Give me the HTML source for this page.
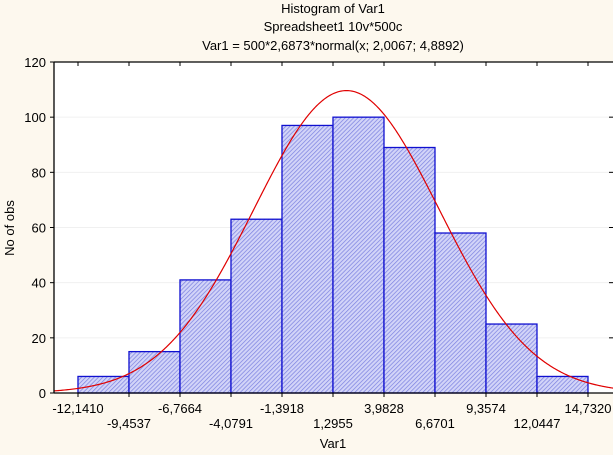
<!DOCTYPE html>
<html><head><meta charset="utf-8"><style>
html,body{margin:0;padding:0;background:#fdf8ee;}
svg{display:block;font-family:"Liberation Sans",Arial,sans-serif;}
</style></head><body>
<svg id="chart" width="613" height="455" viewBox="0 0 613 455">
<defs>
<pattern id="hatch" width="3" height="3" patternUnits="userSpaceOnUse" patternTransform="rotate(45)">
<rect width="3" height="3" fill="#d2d4f8"/>
<line x1="0" y1="0" x2="0" y2="3" stroke="#7a80e0" stroke-width="1.4"/>
</pattern>
</defs>
<rect x="0" y="0" width="613" height="455" fill="#fdf8ee"/>
<text x="333" y="13" font-size="13" text-anchor="middle">Histogram of Var1</text>
<text x="333" y="31" font-size="13" text-anchor="middle">Spreadsheet1 10v*500c</text>
<text x="333" y="50" font-size="13" text-anchor="middle">Var1 = 500*2,6873*normal(x; 2,0067; 4,8892)</text>
<rect x="54" y="62" width="559" height="331" fill="#ffffff"/>
<g id="grid"></g>
<g id="bars"></g>
<path id="curve" fill="none" stroke="#e00000" stroke-width="1.2"/>
<g id="axes"></g>
<text x="333" y="448" font-size="13" text-anchor="middle">Var1</text>
<text x="0" y="0" font-size="13" text-anchor="middle" transform="translate(14,228) rotate(-90)">No of obs</text>
</svg>
<script>
const binEdges = [-12.1410,-9.4537,-6.7664,-4.0791,-1.3918,1.2955,3.9828,6.6701,9.3574,12.0447,14.7320];
const edgeLabels = ["-12,1410","-9,4537","-6,7664","-4,0791","-1,3918","1,2955","3,9828","6,6701","9,3574","12,0447","14,7320"];
const counts = [6,15,41,63,97,100,89,58,25,6];
const yTicks = [0,20,40,60,80,100,120];
const fitN = 500, fitWidth = 2.6873, fitMean = 2.0067, fitSd = 4.8892;

const NS="http://www.w3.org/2000/svg";
const X0=54,X1=613,Y0=393,Y1=62;
const xMin=-13.405,xMax=16.05,yMax=120;
function sx(v){return X0+(v-xMin)/(xMax-xMin)*(X1-X0);}
function sy(v){return Y0-v/yMax*(Y0-Y1);}
function mk(t,a){const e=document.createElementNS(NS,t);for(const k in a)e.setAttribute(k,a[k]);return e;}
const grid=document.getElementById('grid'),bars=document.getElementById('bars'),axes=document.getElementById('axes');
yTicks.forEach(v=>{
  if(v>0&&v<yMax){const g=mk('line',{x1:X0,x2:X1,y1:sy(v),y2:sy(v),stroke:'#f0f0f0','stroke-width':1});
  
  
  grid.appendChild(g);}
  const t=mk('line',{x1:X0-4,x2:X0,y1:sy(v),y2:sy(v),stroke:'#000'});
  
  
  axes.appendChild(t);
  const t2=mk('line',{x1:X1-4,x2:X1,y1:sy(v),y2:sy(v),stroke:'#000'});
  
  
  axes.appendChild(t2);
  const l=mk('text',{x:X0-8,y:sy(v)+5,'font-size':13,'text-anchor':'end'});
  l.textContent=v;
  
  
  axes.appendChild(l);
});
counts.forEach((c,i)=>{
  const xa=sx(binEdges[i]),xb=sx(binEdges[i+1]);
  const r=mk('rect',{x:xa,y:sy(c),width:xb-xa,height:sy(0)-sy(c),fill:'url(#hatch)',stroke:'#1010d0','stroke-width':1.3});
  
  
  bars.appendChild(r);
});
let d='';
for(let px=X0;px<=X1;px+=1){
  const x=xMin+(px-X0)/(X1-X0)*(xMax-xMin);
  const y=fitN*fitWidth*Math.exp(-0.5*((x-fitMean)/fitSd)**2)/(fitSd*Math.sqrt(2*Math.PI));
  d+=(d?'L':'M')+px+','+sy(y).toFixed(2);
}
document.getElementById('curve').setAttribute('d',d);
[[X0,Y1,X0,Y0],[X0,Y0,X1,Y0],[X0,Y1,X1,Y1]].forEach(a=>{
  const l=mk('line',{x1:a[0],y1:a[1],x2:a[2],y2:a[3],stroke:'#000','stroke-width':1.3});
  
  
  axes.appendChild(l);
});
binEdges.forEach((v,i)=>{
  const x=sx(v);
  const t=mk('line',{x1:x,x2:x,y1:Y0,y2:Y0+4,stroke:'#000'});
  
  
  axes.appendChild(t);
  const t2=mk('line',{x1:x,x2:x,y1:Y1,y2:Y1+4,stroke:'#000'});
  
  
  axes.appendChild(t2);
  const l=mk('text',{x:x,y:i%2===0?413:428,'font-size':13,'text-anchor':'middle'});
  l.textContent=edgeLabels[i];
  
  
  axes.appendChild(l);
});
</script>
</body></html>
